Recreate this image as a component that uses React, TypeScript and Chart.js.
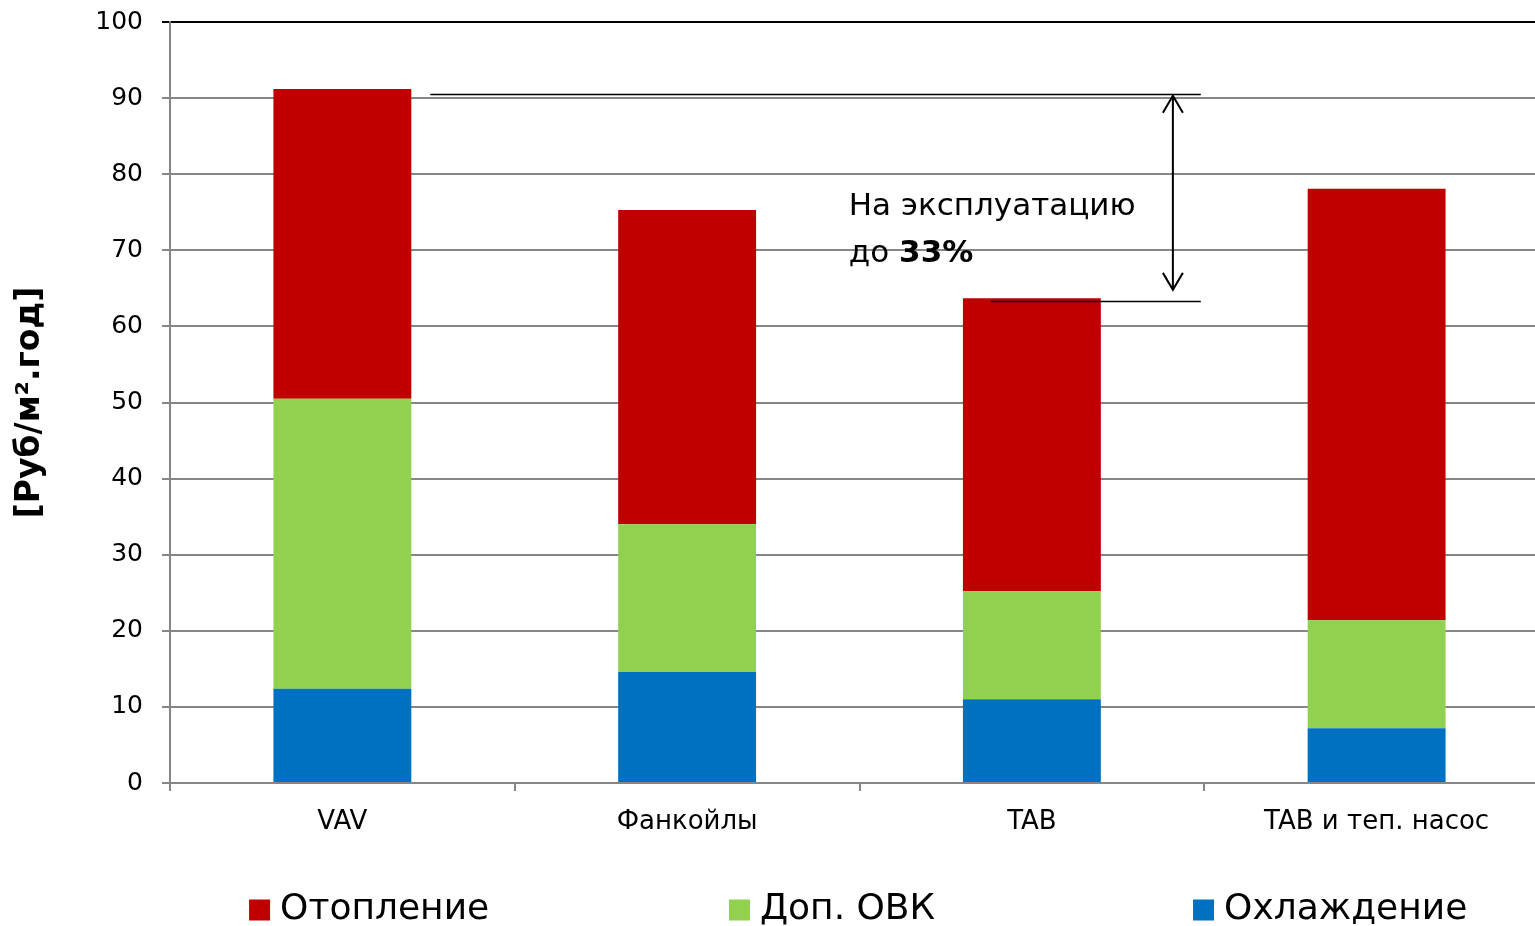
import React, { useEffect, useRef } from "react";
import { Chart, registerables } from "chart.js";

Chart.register(...registerables);

const categories = ["VAV", "Фанкойлы", "TAB", "TAB и теп. насос"];
const seriesNames = ["Охлаждение", "Доп. ОВК", "Отопление"];
const cooling = [12.4, 14.6, 11.0, 7.2];
const extraHvac = [38.1, 19.4, 14.2, 14.2];
const heating = [40.7, 41.3, 38.5, 56.7];
const seriesColors = ["#0070C0", "#92D050", "#C00000"];
const yTicks = [0, 10, 20, 30, 40, 50, 60, 70, 80, 90, 100];

// annotation (in data units)
const levelHigh = 90.6;
const levelLow = 63.3;
const arrowTop = 90.3;
const arrowBottom = 64.8;
const noteLine1 = "На эксплуатацию";
const noteLine2a = "до ";
const noteLine2b = "33%";
const noteBaseline1 = 74.6;
const noteBaseline2 = 68.5;

const FONT = "'DejaVu Sans', Verdana, sans-serif";

const overlayPlugin = {
  id: "overlay",
  afterDraw(chart: any) {
    const { ctx, scales } = chart;
    const x = scales.x;
    const y = scales.y;
    const c0 = x.getPixelForValue(0);
    const catW = x.getPixelForValue(1) - c0;
    const px = (v: number) => c0 + v * catW;
    ctx.save();
    ctx.strokeStyle = "#000";
    ctx.lineWidth = 1.5;
    const yh = Math.round(y.getPixelForValue(levelHigh)) + 0.5;
    const yl = Math.round(y.getPixelForValue(levelLow)) + 0.5;
    ctx.beginPath();
    ctx.moveTo(px(0.255), yh);
    ctx.lineTo(px(2.49), yh);
    ctx.moveTo(px(1.881), yl);
    ctx.lineTo(px(2.49), yl);
    ctx.stroke();
    const ax = px(2.409);
    const at = y.getPixelForValue(arrowTop);
    const ab = y.getPixelForValue(arrowBottom);
    ctx.lineWidth = 2;
    ctx.beginPath();
    ctx.moveTo(ax, at);
    ctx.lineTo(ax, ab);
    ctx.moveTo(ax - 10, at + 17);
    ctx.lineTo(ax, at);
    ctx.lineTo(ax + 10, at + 17);
    ctx.moveTo(ax - 10, ab - 17);
    ctx.lineTo(ax, ab);
    ctx.lineTo(ax + 10, ab - 17);
    ctx.stroke();
    ctx.fillStyle = "#000";
    ctx.textBaseline = "alphabetic";
    ctx.textAlign = "left";
    const tx = px(1.469);
    ctx.font = `31px ${FONT}`;
    ctx.fillText(noteLine1, tx, y.getPixelForValue(noteBaseline1));
    const b2 = y.getPixelForValue(noteBaseline2);
    ctx.fillText(noteLine2a, tx, b2);
    const w = ctx.measureText(noteLine2a).width;
    ctx.font = `bold 31px ${FONT}`;
    ctx.fillText(noteLine2b, tx + w, b2);

    const order = [2, 1, 0];
    const fracs = [0.1608, 0.4706, 0.7702];
    const W = chart.width;
    const ly = 910;
    ctx.font = `36px ${FONT}`;
    ctx.textBaseline = "middle";
    order.forEach((si, i) => {
      const bx = W * fracs[i];
      ctx.fillStyle = seriesColors[si];
      ctx.fillRect(bx, ly - 10.5, 21, 21);
      ctx.fillStyle = "#000";
      ctx.fillText(seriesNames[si], bx + 31, ly);
    });
    ctx.restore();
  },
};

export default function App() {
  const ref = useRef<HTMLCanvasElement>(null);
  useEffect(() => {
    if (!ref.current) return;
    const chart = new Chart(ref.current, {
      type: "bar",
      data: {
        labels: categories,
        datasets: [cooling, extraHvac, heating].map((d, i) => ({
          label: seriesNames[i],
          data: d,
          backgroundColor: seriesColors[i],
          borderWidth: 0,
          categoryPercentage: 1,
          barPercentage: 0.4,
        })),
      },
      options: {
        animation: false,
        responsive: true,
        maintainAspectRatio: false,
        layout: { padding: { top: 22, right: 0, bottom: 0, left: 0 } },
        plugins: { legend: { display: false }, tooltip: { enabled: false } },
        scales: {
          x: {
            stacked: true,
            border: { display: true, color: "#868686", width: 2 },
            grid: {
              offset: true,
              drawOnChartArea: false,
              drawTicks: true,
              tickLength: 8,
              color: "#868686",
              lineWidth: 2,
            },
            ticks: {
              color: "#000",
              font: { family: FONT, size: 26 },
              padding: 16,
              maxRotation: 0,
              autoSkip: false,
            },
            afterFit: (s: any) => {
              s.height = 143;
              s.paddingLeft = 0;
              s.paddingRight = 0;
            },
          },
          y: {
            stacked: true,
            min: 0,
            max: 100,
            afterBuildTicks: (s: any) => {
              s.ticks = yTicks.map((v) => ({ value: v }));
            },
            border: { display: true, color: "#868686", width: 2 },
            grid: {
              color: (c: any) => (c.tick && c.tick.value === 100 ? "#000" : "#868686"),
              lineWidth: 2,
              tickLength: 8,
            },
            ticks: {
              color: "#000",
              font: { family: FONT, size: 25 },
              padding: 19,
            },
            title: {
              display: true,
              text: "[Руб/м².год]",
              color: "#000",
              font: { family: FONT, size: 33, weight: "bold" },
              padding: { top: 11, bottom: 0 },
            },
            afterFit: (s: any) => {
              s.width = 170;
              s.paddingTop = 0;
              s.paddingBottom = 0;
            },
          },
        },
      },
      plugins: [overlayPlugin],
    });
    return () => chart.destroy();
  }, []);
  return (
    <div style={{ position: "fixed", left: 0, top: 0, width: 1535, height: 926, background: "#fff", overflow: "hidden" }}>
      <div style={{ position: "absolute", left: 0, top: 0, width: 1549, height: 926 }}>
        <canvas ref={ref} />
      </div>
    </div>
  );
}
